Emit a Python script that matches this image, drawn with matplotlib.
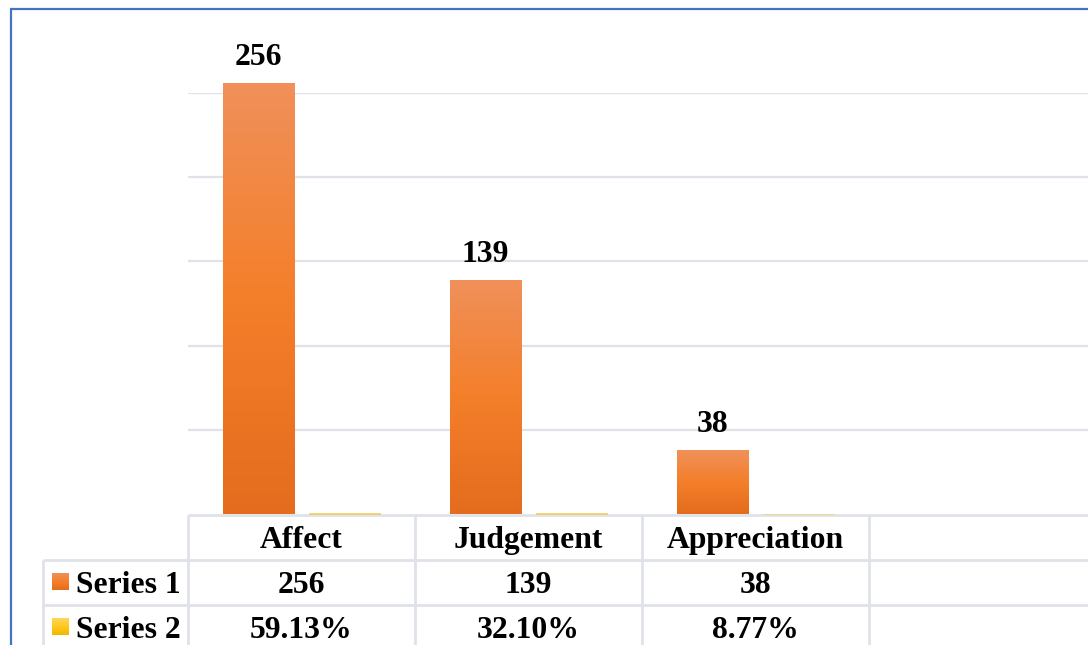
import numpy as np
import matplotlib
matplotlib.use("Agg")
import matplotlib.pyplot as plt
from matplotlib.patches import Rectangle
from matplotlib.colors import LinearSegmentedColormap

# ---- data ----
categories = ["Affect", "Judgement", "Appreciation"]
series1 = [256, 139, 38]
series2 = [0.5913, 0.3210, 0.0877]
series2_labels = ["59.13%", "32.10%", "8.77%"]
series_names = ["Series 1", "Series 2"]
n_slots = 4  # table shows one extra empty column

W, H = 1088, 645
fig = plt.figure(figsize=(W / 100, H / 100), dpi=100)
fig.patch.set_facecolor("white")

FONT = dict(family="Liberation Serif", weight="bold", size=22.8, color="black")
GRID = "#DFE2E8"
PX = 0.72  # points per pixel

# main axes
y0_px, ytop_px = 514.0, 93.0
x_left, x_right = 188.0, 188.0 + 227.0 * n_slots
ax = fig.add_axes([x_left / W, 1 - y0_px / H, (x_right - x_left) / W, (y0_px - ytop_px) / H])
ax.set_facecolor("none")
ax.set_zorder(2)
for s in ax.spines.values():
    s.set_visible(False)
ax.set_yticks([50, 100, 150, 200, 250])
ax.set_yticklabels([])
ax.set_xticks([])
ax.tick_params(length=0)
ax.grid(axis="y", color=GRID, lw=1.6)
ax.set_axisbelow(True)

orange = LinearSegmentedColormap.from_list("o", ["#E46C1E", "#F47F2A", "#F0905A"])
yellow = LinearSegmentedColormap.from_list("y", ["#F0B800", "#FFC820", "#FFD65A"])

x = np.arange(len(categories))
off, bw = 0.19, 0.313
grad = np.linspace(0, 1, 256).reshape(-1, 1)

def grad_bars(xs, vals, cmap):
    bars = ax.bar(xs, vals, width=bw, color="none", edgecolor="none", zorder=2)
    for b in bars:
        bx, by = b.get_x(), b.get_y()
        bwid, bh = b.get_width(), b.get_height()
        im = ax.imshow(grad, extent=[bx, bx + bwid, by, by + bh], origin="lower",
                       cmap=cmap, aspect="auto", zorder=2, interpolation="bilinear")
        im.set_clip_path(b)
    return bars

b1 = grad_bars(x - off, series1, orange)
# series 2 values are tiny on this scale: draw as plain thin bars
ax.bar(x + off, series2, width=bw, color="#FFC000", edgecolor="#F2CF6E",
       lw=0.5, zorder=2, clip_on=False)
ax.set_xlim(-0.5, n_slots - 0.5)
ax.set_ylim(0, 250)

for xi, v in zip(x - off, series1):
    ax.annotate(str(v), (xi, v), xytext=(0, 18 * PX), textcoords="offset points",
                ha="center", va="baseline", annotation_clip=False, **FONT)

# data table axes
tab_left_px = 43.0
x0 = -0.5 - (x_left - tab_left_px) / 227.0
row_h = 45.0
tab = fig.add_axes([tab_left_px / W, 1 - (515 + 3 * row_h) / H,
                    (x_right - tab_left_px) / W, 3 * row_h / H])
tab.set_zorder(1)
tab.set_axis_off()
tab.set_xlim(x0, n_slots - 0.5)
tab.set_ylim(3, 0)

lk = dict(color=GRID, lw=2.0, clip_on=False, solid_capstyle="butt")
tab.plot([-0.5, n_slots - 0.5], [0, 0], **lk)
for r in (1, 2, 3):
    tab.plot([x0, n_slots - 0.5], [r, r], **lk)
for c in np.arange(n_slots + 1) - 0.5:
    tab.plot([c, c], [0, 3], **lk)
tab.plot([x0, x0], [1, 3], **lk)

base = 12.0 / row_h
for i, cat in enumerate(categories):
    tab.text(i, 1 - base, cat, ha="center", va="baseline", **FONT)
    tab.text(i, 2 - base, str(series1[i]), ha="center", va="baseline", **FONT)
    tab.text(i, 3 - base, series2_labels[i], ha="center", va="baseline", **FONT)

def pxx(px):
    return x0 + (px - tab_left_px) / 227.0

for r, (name, cmap) in enumerate(zip(series_names, [orange, yellow])):
    top = r + 1 + 13.0 / row_h
    sq = Rectangle((pxx(52), top), pxx(69) - pxx(52), 17.0 / row_h,
                   facecolor="none", edgecolor="none")
    tab.add_patch(sq)
    im = tab.imshow(grad, extent=[pxx(52), pxx(69), top + 17.0 / row_h, top],
                    origin="lower", cmap=cmap, aspect="auto", interpolation="bilinear")
    im.set_clip_path(sq)
    tab.text(pxx(76), r + 2 - base, name, ha="left", va="baseline", **FONT)
tab.set_xlim(x0, n_slots - 0.5)
tab.set_ylim(3, 0)

# chart border
fig.patches.append(Rectangle((11 / W, 1 - 700 / H), (1150 - 11) / W, (700 - 9) / H,
                             transform=fig.transFigure, facecolor="none",
                             edgecolor="#4472C4", lw=2.2 * PX, clip_on=False))

fig.savefig("out.png", dpi=100)
